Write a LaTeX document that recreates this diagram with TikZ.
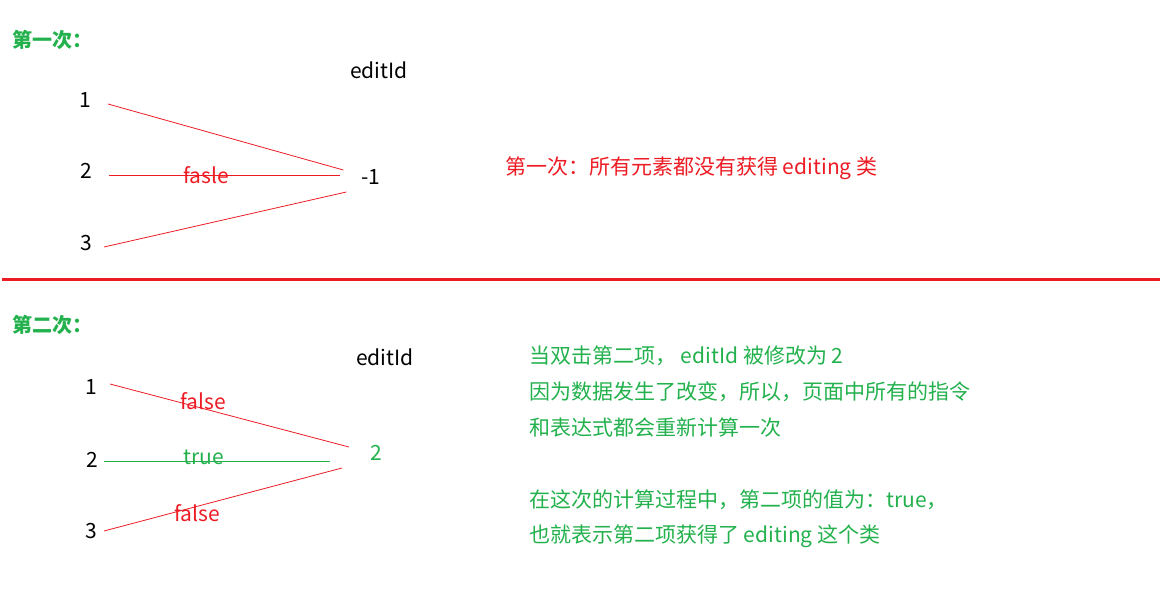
\documentclass[tikz,border=0pt]{standalone}
\usepackage{fontspec}
\setmainfont{Noto Sans CJK SC}
\usetikzlibrary{positioning}
\definecolor{passgreen}{HTML}{22B14C}
\definecolor{passred}{HTML}{ED1C24}
\tikzstyle{num} = [inner sep=0pt, font=\fontsize{21}{25}\selectfont]
\tikzstyle{heading} = [anchor=west, inner sep=0pt, text=passgreen, font=\fontsize{20}{24}\selectfont\bfseries]
\tikzstyle{note} = [anchor=west, inner sep=0pt, font=\fontsize{21}{25}\selectfont]
\tikzstyle{falseline} = [draw=passred, line width=0.8pt]
\tikzstyle{trueline} = [draw=passgreen, line width=0.8pt]
\tikzstyle{flag} = [inner sep=0pt, font=\fontsize{21}{25}\selectfont]

\begin{document}
\begin{tikzpicture}[x=1pt,y=-1pt]
  \useasboundingbox (0,0) rectangle (1160,596);
  % first pass
  \draw (12,40) node[heading](h1){第一次：};
  \draw (379,70) node[num](e1){editId};
  \draw (85,100) node[num](a1){1};
  \draw (86,171) node[num](a2){2};
  \draw (86,243) node[num](a3){3};
  \draw (371,177) node[num](v1){-1};
  \draw[falseline] ([xshift=17pt,yshift=-4pt]a1.east) -- ([xshift=-18pt,yshift=7pt]v1.west);
  \draw[falseline] ([xshift=17pt,yshift=-4pt]a2.east) -- node[flag, pos=0.42, text=passred]{fasle} ([xshift=-21pt,yshift=2pt]v1.west);
  \draw[falseline] ([xshift=12pt,yshift=-4pt]a3.east) -- ([xshift=-15pt,yshift=-15pt]v1.west);
  \draw (505,168) node[note, text=passred](n1){第一次：所有元素都没有获得 editing 类};
  % separator
  \draw[passred, line width=3pt] (2,280) -- (1160,280);
  % second pass
  \draw (12,325) node[heading](h2){第二次：};
  \draw (385,357) node[num](e2){editId};
  \draw (91,387) node[num](b1){1};
  \draw (92,460) node[num](b2){2};
  \draw (91,531) node[num](b3){3};
  \draw (376,453) node[num, text=passgreen](v2){2};
  \draw[falseline] ([xshift=13pt,yshift=3pt]b1.east) -- node[flag, pos=0.39, yshift=7pt, text=passred]{false} ([xshift=-21pt,yshift=6pt]v2.west);
  \draw[trueline] ([xshift=6pt,yshift=-1pt]b2.east) -- node[flag, pos=0.44, yshift=4pt, text=passgreen]{true} ([xshift=-40pt,yshift=-8pt]v2.west);
  \draw[falseline] ([xshift=7pt]b3.east) -- node[flag, pos=0.39, yshift=-7pt, text=passred]{false} ([xshift=-28pt,yshift=-15pt]v2.west);
  \draw (529,356) node[note, text=passgreen](g1){当双击第二项， editId 被修改为 2};
  \draw (529,392) node[note, text=passgreen](g2){因为数据发生了改变，所以，页面中所有的指令};
  \draw (529,428) node[note, text=passgreen](g3){和表达式都会重新计算一次};
  \draw (529,500) node[note, text=passgreen](g4){在这次的计算过程中，第二项的值为：true，};
  \draw (529,536) node[note, text=passgreen](g5){也就表示第二项获得了 editing 这个类};
\end{tikzpicture}
\end{document}
